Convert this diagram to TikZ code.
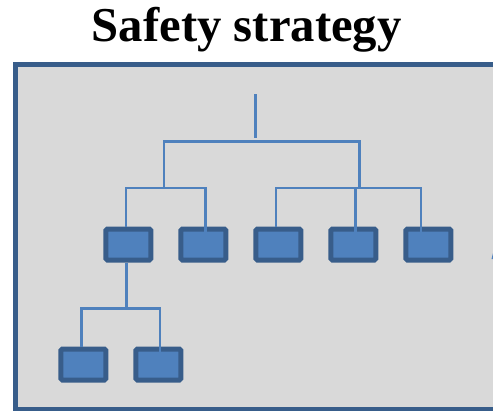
\documentclass[tikz,border=0pt]{standalone}
\usepackage{fontspec}
\setmainfont{Liberation Serif}
\usepackage{tikz}
\usetikzlibrary{positioning, calc}

\begin{document}
\begin{tikzpicture}[x=1pt, y=-1pt]
  % Define colors
  \definecolor{colPanel}{RGB}{217,217,217}  % panel - light gray
  \definecolor{colEdge}{RGB}{56,93,138}     % borders - dark blue
  \definecolor{colLeaf}{RGB}{79,129,189}    % boxes and links - blue

  \tikzset{
    frame/.style={draw=colEdge, fill=colPanel, line width=5pt},
    leaf/.style={draw=colEdge, fill=colLeaf, line width=5pt, rounded corners=1.5pt,
      minimum width=45pt, minimum height=31pt, inner sep=0pt},
    link/.style={draw=colLeaf, line width=2.8pt}
  }

  \useasboundingbox (0,0) rectangle (493,410);
  \clip (0,0) rectangle (493,410);

  % Title
  \node[anchor=base, inner sep=0pt, font=\fontsize{48.7}{50}\selectfont\bfseries]
    (title) at (246.7,41.7) {Safety strategy};

  % Panel
  \draw[frame] (15.8,64.8) rectangle (520,409);

  % Boxes, upper row
  \foreach \i/\x in {1/128.3, 2/203.3, 3/278.3, 4/353.3, 5/428.3} {
    \node[leaf] (b\i) at (\x,244.5) {};
  }
  % Boxes, lower row
  \node[leaf] (b6) at (83.3,364.5) {};
  \node[leaf] (b7) at (158.3,364.5) {};

  % Junction points
  \coordinate (top) at (255.7,94);
  \coordinate (stem) at (255.7,138);
  \coordinate (l1a) at (164,141.7);
  \coordinate (l1b) at (359.3,141.7);
  \coordinate (l2a) at (126,188);
  \coordinate (l2b) at (205.3,188);
  \coordinate (l2c) at (276,188);
  \coordinate (l2d) at (421,188);
  \coordinate (l2e) at (355.7,188);
  \coordinate (l3) at (126.5,307.5);
  \coordinate (l3a) at (81.7,308.3);
  \coordinate (l3b) at (160,308.3);

  % Links
  \draw[link] (top) -- (stem);
  \draw[link] (l2a -| l1a) -- (l1a) -- (l1b) -- (l2a -| l1b);
  \draw[link] (b1.north -| l2a) -- (l2a) -- (l2b) -- ([yshift=-5pt]b2.north -| l2b);
  \draw[link] (b3.north -| l2c) -- (l2c) -- (l2d) -- ([yshift=-5pt]b5.north -| l2d);
  \draw[link] (l2e) -- ([yshift=-5pt]b4.north -| l2e);
  \draw[link] (b1.south -| l3) -- (l3);
  \draw[link] (b6.north -| l3a) -- (l3a) -- (l3b) -- ([yshift=-5pt]b7.north -| l3b);

  % Cut-off shape at the right edge
  \fill[colLeaf] (491.5,259) -- (494,249) -- (498,259) -- cycle;
\end{tikzpicture}
\end{document}
